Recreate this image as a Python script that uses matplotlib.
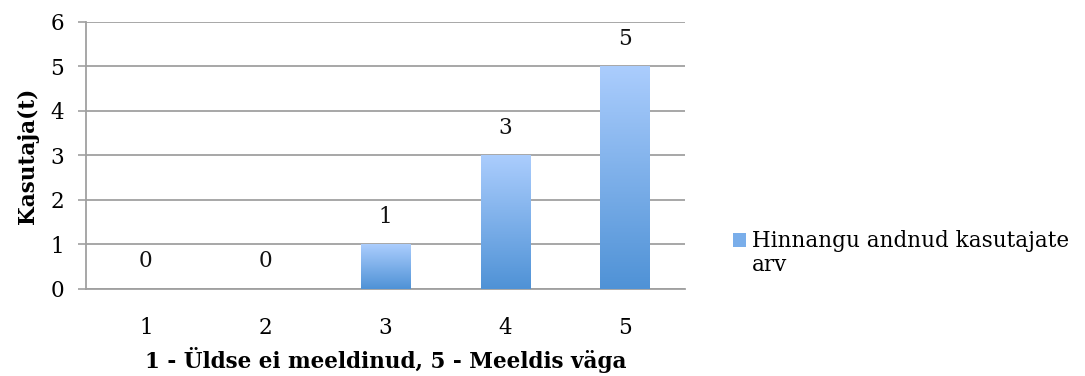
import matplotlib
matplotlib.use("Agg")
import matplotlib.pyplot as plt
import numpy as np
from matplotlib.colors import LinearSegmentedColormap

categories = ["1", "2", "3", "4", "5"]
values = [0, 0, 1, 3, 5]
series_label_lines = ["Hinnangu andnud kasutajate", "arv"]
y_ticks = [0, 1, 2, 3, 4, 5, 6]

plt.rcParams['font.family'] = ['DejaVu Serif']
FS = 15.5
fig = plt.figure(figsize=(10.85, 3.76), dpi=100)
ax = fig.add_axes([0.0793, 0.2314, 0.631 - 0.0793, 0.9415 - 0.2314])

x = np.arange(len(categories))
bars = ax.bar(x, values, width=0.41, color="#7aaeea", zorder=3)

cmap = LinearSegmentedColormap.from_list("g", ["#4f92d6", "#abcdfd"])
grad = np.linspace(0, 1, 256).reshape(-1, 1)
for b, v in zip(bars, values):
    if v <= 0:
        continue
    x0 = b.get_x(); w = b.get_width()
    im = ax.imshow(grad, cmap=cmap, origin="lower", aspect="auto",
                   extent=[x0, x0 + w, 0, v], zorder=4)
    im.set_clip_path(b)

for xi, v in zip(x, values):
    ax.annotate(str(v), (xi, v), xytext=(0, 20), textcoords="offset points",
                ha="center", va="center", fontsize=FS, color="#111111")

ax.set_xlim(-0.5, len(categories) - 0.5)
ax.set_ylim(0, 6)
ax.set_yticks(y_ticks)
ax.set_xticks(x)
ax.set_xticklabels(categories)
ax.tick_params(axis="x", length=0, pad=20, labelsize=FS)
ax.tick_params(axis="y", length=6, width=1.2, color="#a0a0a0", pad=10, labelsize=FS)
ax.grid(axis="y", color="#a0a0a0", linewidth=1.3, zorder=0)
ax.set_axisbelow(True)
for s in ["top", "right"]:
    ax.spines[s].set_visible(False)
for s in ["left", "bottom"]:
    ax.spines[s].set_color("#a0a0a0")
    ax.spines[s].set_linewidth(1.3)

ax.set_xlabel("1 - Üldse ei meeldinud, 5 - Meeldis väga", fontsize=FS,
              fontweight="bold", labelpad=6)
ax.set_ylabel("Kasutaja(t)", fontsize=FS, fontweight="bold", labelpad=8)

leg = fig.legend(handles=[bars], labels=[series_label_lines[0]], loc="upper left",
                 bbox_to_anchor=(0.668, 0.41), frameon=False, fontsize=FS,
                 handlelength=0.6, handleheight=0.6, handletextpad=0.25,
                 borderaxespad=0)
fig.canvas.draw()
t = leg.get_texts()[0]
bb = t.get_window_extent().transformed(fig.transFigure.inverted())
fig.text(bb.x0, 1 - 265 / 376, series_label_lines[1], fontsize=FS,
         ha="left", va="center")

fig.savefig("out.png", dpi=100)
